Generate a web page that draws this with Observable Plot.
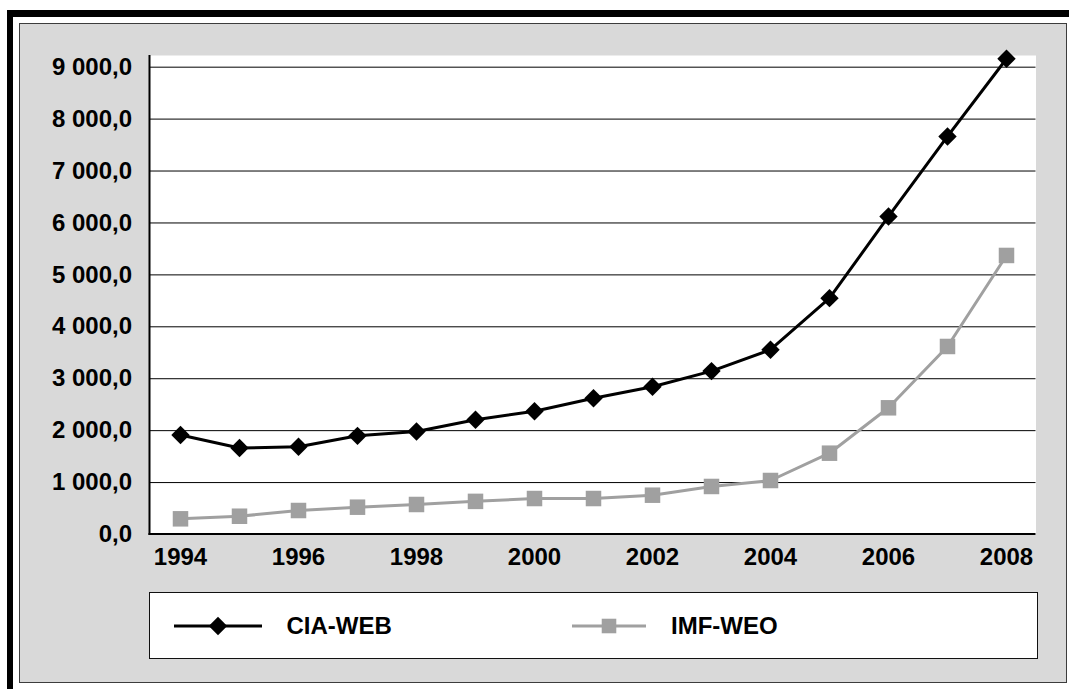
<!DOCTYPE html>
<html><head><meta charset="utf-8">
<script src="https://cdn.jsdelivr.net/npm/d3@7"></script>
<script src="https://cdn.jsdelivr.net/npm/@observablehq/plot@0.6"></script>
<style>
html,body{margin:0;padding:0;background:#fff;}
#page{position:relative;width:1069px;height:689px;overflow:hidden;font-family:"Liberation Sans",Arial,sans-serif;}
.bar{position:absolute;background:#000;}
#frame{position:absolute;left:19px;top:23px;width:1048px;height:660px;box-sizing:border-box;border:1.5px solid #3c3c3c;background:#d9d9d9;}
#chart{position:absolute;left:0;top:0;width:1069px;}
#legend{position:relative;margin-left:149px;margin-top:12px;width:889px;height:67px;box-sizing:border-box;border:1.5px solid #111;background:#fff;}
.item{position:absolute;top:0;height:100%;display:flex;align-items:center;font-weight:bold;font-size:24px;color:#000;}
.item span{margin-left:25px;}
.item svg{display:block;}
</style>
</head>
<body>
<div id="page">
  <div class="bar" style="left:7px;top:10px;width:1062px;height:7px;"></div>
  <div class="bar" style="left:7px;top:10px;width:6px;height:679px;"></div>
  <div id="frame"></div>
  <div id="chart"></div>
</div>
<script>
// ---- data ----
const years = ["1994","1995","1996","1997","1998","1999","2000","2001","2002","2003","2004","2005","2006","2007","2008"];
const ciaWeb = [1915, 1665, 1690, 1900, 1985, 2210, 2375, 2625, 2845, 3147, 3559, 4552, 6125, 7666, 9162];
const imfWeo = [302, 352, 462, 526, 578, 638, 693, 693, 757, 925, 1040, 1566, 2440, 3621, 5374];
const seriesNames = ["CIA-WEB", "IMF-WEO"];
const seriesColors = ["#000000", "#a0a0a0"];
const yTicks = [0, 1000, 2000, 3000, 4000, 5000, 6000, 7000, 8000, 9000];
const yTickLabels = ["0,0", "1 000,0", "2 000,0", "3 000,0", "4 000,0", "5 000,0", "6 000,0", "7 000,0", "8 000,0", "9 000,0"];
const xTickLabels = ["1994", "1996", "1998", "2000", "2002", "2004", "2006", "2008"];

const cia = years.map((year, i) => ({year, value: ciaWeb[i]}));
const imf = years.map((year, i) => ({year, value: imfWeo[i]}));

const FONT = '"Liberation Sans", Arial, sans-serif';
const rDiamond = 8.3, rSquare = 8.75;

const axisLines = (index, scales, values, dims) => {
  const g = d3.create("svg:g").attr("stroke", "#000").attr("stroke-width", 2);
  const x0 = dims.marginLeft, y0 = dims.height - dims.marginBottom;
  g.append("line").attr("x1", x0).attr("x2", x0).attr("y1", dims.marginTop).attr("y2", y0 + 1);
  g.append("line").attr("x1", x0 - 1).attr("x2", dims.width - dims.marginRight).attr("y1", y0).attr("y2", y0);
  return g.node();
};

const chart = Plot.plot({
  width: 1069,
  height: 580,
  marginLeft: 149.5,
  marginRight: 33.5,
  marginTop: 55,
  marginBottom: 46,
  style: {background: "transparent", fontFamily: FONT, color: "#000"},
  x: {type: "point", domain: years, padding: 0.5},
  y: {domain: [0, 9225]},
  marks: [
    Plot.frame({fill: "white", stroke: "none"}),
    Plot.ruleY(yTicks.slice(1), {stroke: "#000", strokeWidth: 1}),
    Plot.axisY(yTicks, {tickSize: 0, tickPadding: 18, tickFormat: d => yTickLabels[yTicks.indexOf(d)], fontSize: 24, fontWeight: "bold", fill: "#000", label: null}),
    Plot.axisX(xTickLabels, {tickSize: 0, tickPadding: 13, fontSize: 24, fontWeight: "bold", fill: "#000", label: null}),
    axisLines,
    Plot.line(imf, {x: "year", y: "value", stroke: seriesColors[1], strokeWidth: 3}),
    Plot.dot(imf, {x: "year", y: "value", symbol: "square", r: rSquare, fill: seriesColors[1], stroke: "none"}),
    Plot.line(cia, {x: "year", y: "value", stroke: seriesColors[0], strokeWidth: 3}),
    Plot.dot(cia, {x: "year", y: "value", symbol: "diamond2", r: rDiamond, fill: seriesColors[0], stroke: "none"})
  ]
});
const host = document.getElementById("chart");
host.appendChild(chart);

// ---- legend (HTML, below the SVG) ----
const legend = document.createElement("div");
legend.id = "legend";
const items = [
  {name: seriesNames[0], color: seriesColors[0], symbol: d3.symbolDiamond2, r: rDiamond, left: 23.5, w: 88},
  {name: seriesNames[1], color: seriesColors[1], symbol: d3.symbolSquare, r: rSquare * 0.94, left: 422, w: 74}
];
for (const it of items) {
  const div = document.createElement("div");
  div.className = "item";
  div.style.left = it.left + "px";
  const svg = d3.create("svg").attr("width", it.w).attr("height", 24);
  svg.append("line").attr("x1", 0).attr("x2", it.w).attr("y1", 12).attr("y2", 12).attr("stroke", it.color).attr("stroke-width", 3);
  svg.append("path").attr("transform", `translate(${it.w / 2},12)`).attr("fill", it.color)
    .attr("d", d3.symbol(it.symbol, Math.PI * it.r * it.r)());
  div.appendChild(svg.node());
  const span = document.createElement("span");
  span.textContent = it.name;
  div.appendChild(span);
  legend.appendChild(div);
}
host.appendChild(legend);
</script>
</body></html>
